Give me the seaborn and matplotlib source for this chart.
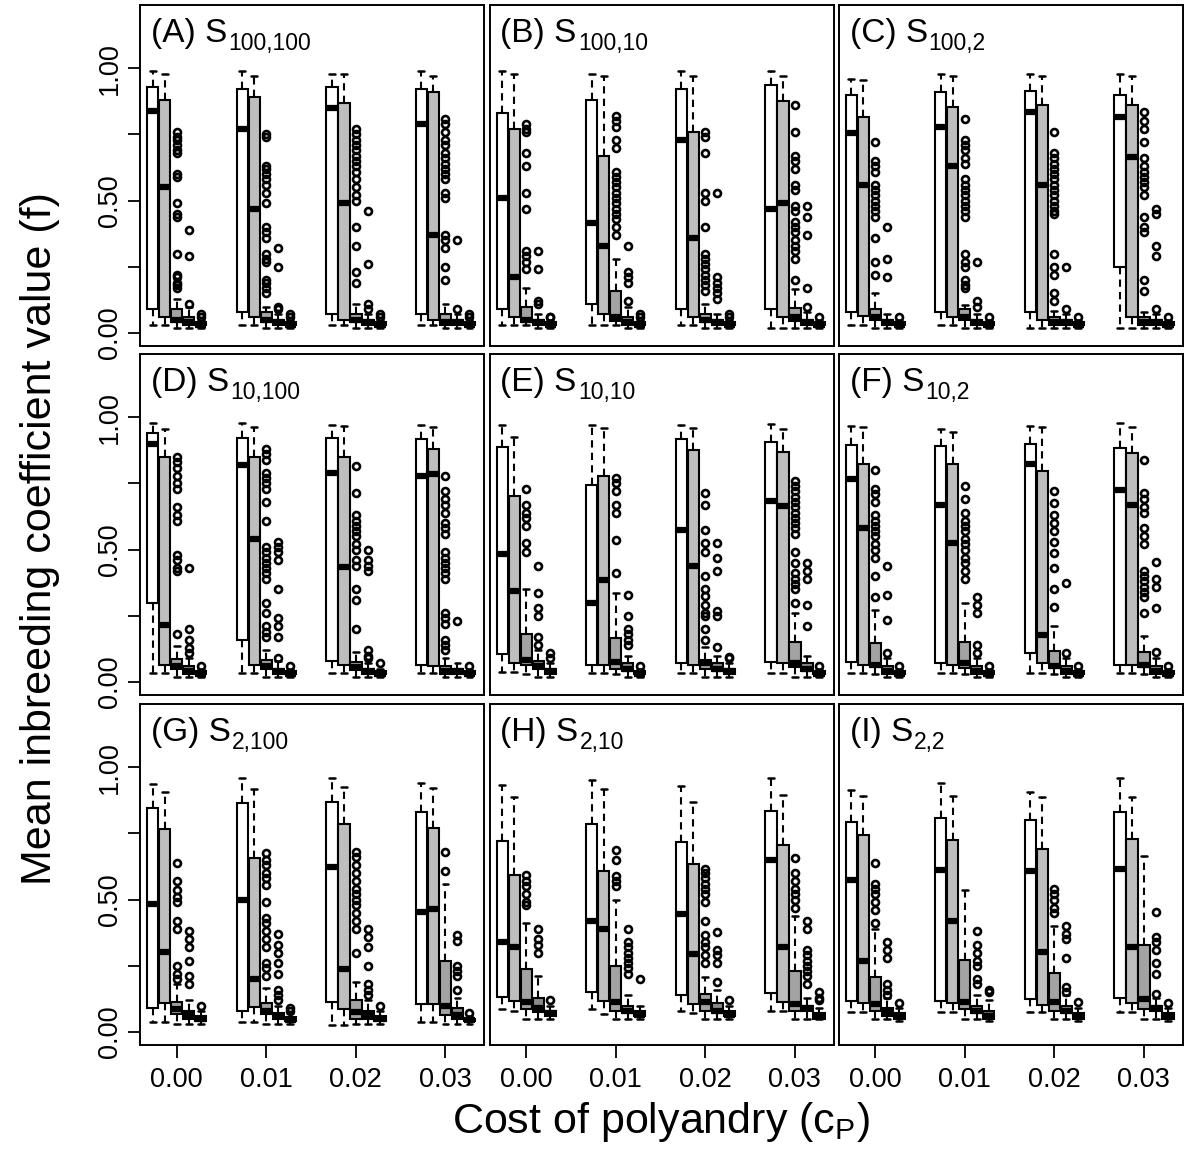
import numpy as np
import pandas as pd
import matplotlib
matplotlib.use("Agg")
import matplotlib.pyplot as plt
import seaborn as sns

# ---------------- data ----------------
costs = ["0.00", "0.01", "0.02", "0.03"]
panel_tags = ["(A)", "(B)", "(C)", "(D)", "(E)", "(F)", "(G)", "(H)", "(I)"]
panel_subs = ["100,100", "100,10", "100,2", "10,100", "10,10", "10,2", "2,100", "2,10", "2,2"]
box_names = ["b1", "b2", "b3", "b4", "b5"]
box_colors = ["#FFFFFF", "#BEBEBE", "#A3A3A3", "#8A8A8A", "#707070"]

# each box: (lower whisker, Q1, median, Q3, upper whisker); 5 boxes per cost level
A_box = [(.03, .09, .84, .93, .99), (.03, .06, .55, .88, .98), (.02, .04, .05, .09, .13), (.02, .03, .04, .06, .08), (.02, .03, .03, .04, .05),
         (.03, .08, .77, .92, .99), (.03, .06, .47, .89, .97), (.02, .04, .05, .08, .10), (.02, .03, .04, .05, .07), (.02, .03, .03, .04, .05),
         (.03, .07, .85, .93, .98), (.03, .05, .49, .87, .98), (.02, .04, .05, .07, .11), (.02, .03, .04, .05, .07), (.02, .03, .03, .04, .05),
         (.03, .07, .79, .92, .99), (.03, .05, .37, .91, .97), (.02, .03, .04, .07, .11), (.02, .03, .04, .05, .07), (.02, .03, .03, .04, .05)]
A_out = [[], [], [.76, .74, .73, .71, .69, .68, .60, .59, .49, .45, .44, .30, .22, .21, .19, .18, .17], [.39, .29, .11, .10], [.06, .07],
         [], [], [.75, .74, .63, .62, .60, .58, .56, .53, .49, .40, .38, .36, .30, .28, .27, .20, .19, .17, .15], [.32, .25, .10, .09], [.06, .07],
         [], [], [.77, .75, .73, .71, .69, .67, .65, .63, .61, .58, .55, .52, .50, .40, .33, .23, .19], [.46, .26, .11, .09], [.06, .07],
         [], [], [.81, .79, .76, .73, .71, .68, .66, .64, .62, .60, .58, .53, .51, .37, .35, .32, .25, .20], [.35, .09], [.06, .07]]

B_box = [(.03, .09, .51, .83, .99), (.03, .06, .21, .77, .98), (.03, .04, .05, .10, .17), (.02, .03, .04, .05, .07), (.02, .03, .03, .04, .05),
         (.03, .11, .415, .88, .98), (.03, .07, .33, .67, .97), (.03, .045, .06, .16, .28), (.02, .03, .04, .06, .08), (.02, .03, .03, .04, .05),
         (.03, .09, .73, .92, .99), (.03, .06, .36, .76, .97), (.02, .04, .05, .07, .11), (.02, .03, .04, .05, .07), (.02, .03, .03, .04, .05),
         (.02, .09, .47, .935, .99), (.02, .06, .49, .875, .97), (.02, .045, .06, .095, .165), (.02, .03, .04, .05, .08), (.02, .03, .03, .04, .05)]
B_out = [[], [], [.79, .77, .76, .68, .63, .53, .47, .31, .29, .27, .24], [.31, .24, .12, .11], [.06, .06],
         [], [], [.82, .80, .78, .73, .70, .61, .59, .57, .55, .53, .51, .49, .47, .45, .43, .40, .37], [.33, .23, .21, .19, .12, .10], [.06, .07],
         [], [], [.76, .74, .68, .53, .50, .40, .30, .28, .26, .24, .22, .20, .18, .16], [.53, .21, .19, .17, .15, .13], [.07, .06],
         [], [], [.86, .76, .67, .65, .62, .56, .54, .48, .46, .42, .40, .38, .35, .33, .31, .28, .20], [.48, .44, .37, .17, .10], [.06]]

C_box = [(.03, .08, .755, .90, .96), (.03, .065, .56, .815, .955), (.02, .05, .06, .09, .15), (.02, .03, .04, .05, .07), (.02, .03, .03, .04, .05),
         (.03, .08, .78, .91, .98), (.03, .06, .63, .855, .97), (.02, .05, .06, .09, .105), (.02, .03, .04, .05, .07), (.02, .03, .03, .04, .05),
         (.02, .08, .835, .915, .98), (.02, .05, .56, .86, .97), (.02, .03, .04, .06, .085), (.02, .03, .04, .05, .07), (.02, .03, .03, .04, .05),
         (.02, .25, .815, .90, .98), (.02, .06, .665, .86, .97), (.02, .03, .04, .06, .08), (.02, .03, .04, .05, .07), (.02, .03, .03, .04, .05)]
C_out = [[], [], [.72, .65, .63, .61, .56, .54, .52, .50, .48, .46, .44, .36, .27, .22], [.40, .28, .21], [.06],
         [], [], [.81, .73, .71, .69, .66, .64, .58, .56, .54, .52, .50, .48, .46, .44, .30, .27, .25, .20, .18, .17], [.27, .12, .10], [.06],
         [], [], [.76, .68, .66, .64, .62, .60, .58, .56, .54, .52, .50, .48, .46, .45, .30, .25, .22, .15, .12], [.25, .09], [.06],
         [], [], [.835, .80, .77, .72, .66, .63, .61, .59, .57, .55, .52, .44, .40, .38, .20, .16], [.47, .45, .33, .29, .09], [.06]]

D_box = [(.035, .30, .90, .94, .98), (.035, .064, .216, .85, .957), (.02, .05, .06, .086, .136), (.02, .03, .04, .06, .09), (.02, .03, .03, .04, .05),
         (.035, .16, .82, .92, .98), (.035, .064, .54, .85, .965), (.02, .05, .06, .083, .12), (.02, .03, .04, .05, .08), (.02, .03, .03, .04, .05),
         (.035, .08, .79, .92, .97), (.035, .064, .434, .85, .967), (.02, .045, .055, .075, .115), (.02, .03, .04, .05, .07), (.02, .03, .03, .04, .05),
         (.035, .064, .778, .917, .97), (.035, .06, .784, .88, .965), (.02, .03, .04, .06, .09), (.02, .03, .04, .05, .07), (.02, .03, .03, .04, .05)]
D_out = [[], [], [.85, .83, .81, .78, .75, .73, .66, .63, .61, .48, .46, .43, .42, .18], [.43, .20, .16, .13, .11], [.06],
         [], [], [.88, .86, .84, .79, .77, .75, .73, .68, .61, .51, .49, .47, .45, .43, .41, .39, .30, .26, .21, .19, .17], [.53, .51, .49, .46, .35, .24, .21, .17, .09], [.06],
         [], [], [.815, .715, .63, .61, .59, .57, .55, .52, .50, .46, .44, .35, .31, .20], [.50, .46, .44, .42, .12, .10, .09], [.07],
         [], [], [.78, .72, .69, .67, .64, .60, .58, .56, .49, .47, .45, .43, .41, .39, .26, .24, .22, .16, .14, .12], [.23], [.06]]

E_box = [(.039, .106, .485, .889, .97), (.039, .071, .342, .702, .927), (.03, .064, .085, .18, .35), (.02, .05, .06, .08, .12), (.02, .03, .04, .05, .07),
         (.035, .064, .30, .746, .97), (.035, .064, .384, .778, .96), (.03, .048, .077, .165, .336), (.02, .04, .05, .07, .10), (.02, .03, .03, .04, .05),
         (.035, .071, .576, .917, .97), (.035, .064, .44, .876, .96), (.02, .05, .07, .085, .134), (.02, .04, .05, .07, .10), (.02, .03, .04, .05, .07),
         (.035, .077, .683, .907, .973), (.035, .071, .664, .869, .957), (.02, .058, .07, .153, .26), (.02, .04, .05, .07, .10), (.02, .03, .03, .04, .05)]
E_out = [[], [], [.73, .67, .64, .62, .59, .525, .49], [.44, .335, .28, .25, .17, .14], [.11, .09],
         [], [], [.77, .75, .72, .67, .64, .535, .41], [.33, .25, .20, .18, .16, .14], [.06],
         [], [], [.715, .67, .576, .525, .49, .40, .35, .325, .29, .26, .25, .20, .16], [.525, .468, .418, .27, .25, .134], [.096, .09],
         [], [], [.76, .74, .72, .70, .68, .66, .64, .62, .60, .58, .56, .49, .45, .41, .39, .37, .35, .30], [.45, .42, .39, .29, .21], [.06]]

F_box = [(.035, .077, .768, .894, .967), (.035, .064, .582, .822, .965), (.03, .058, .065, .146, .273), (.02, .03, .04, .06, .09), (.02, .03, .03, .04, .05),
         (.035, .071, .67, .891, .955), (.035, .064, .525, .822, .944), (.03, .052, .07, .152, .30), (.02, .03, .04, .06, .09), (.02, .03, .03, .04, .05),
         (.035, .109, .822, .898, .967), (.035, .071, .178, .797, .965), (.03, .052, .06, .116, .21), (.02, .03, .04, .06, .09), (.02, .03, .03, .04, .05),
         (.035, .064, .727, .885, .98), (.035, .064, .67, .864, .965), (.03, .058, .065, .115, .172), (.02, .03, .04, .06, .09), (.02, .03, .03, .04, .05)]
F_out = [[], [], [.80, .73, .71, .68, .63, .61, .59, .57, .55, .52, .50, .47, .40, .32], [.44, .33, .235, .11], [.06],
         [], [], [.74, .69, .64, .61, .59, .57, .54, .52, .50, .47, .45, .42, .39], [.32, .29, .26, .14, .11], [.06],
         [], [], [.72, .677, .63, .60, .57, .53, .487, .43, .35, .285], [.373, .11], [.06],
         [], [], [.84, .715, .69, .66, .64, .58, .55, .52, .42, .40, .38, .36, .34, .32, .26], [.455, .39, .36, .28, .115], [.06]]

G_box = [(.039, .09, .485, .847, .936), (.037, .11, .304, .766, .905), (.03, .068, .087, .115, .18), (.03, .05, .065, .08, .12), (.03, .04, .05, .06, .08),
         (.037, .081, .497, .864, .96), (.037, .093, .20, .658, .918), (.03, .068, .08, .11, .165), (.03, .05, .06, .07, .10), (.03, .04, .045, .055, .07),
         (.027, .115, .624, .87, .958), (.027, .087, .239, .784, .927), (.03, .049, .074, .122, .19), (.03, .05, .065, .08, .12), (.03, .04, .05, .06, .08),
         (.037, .106, .453, .832, .94), (.037, .106, .463, .769, .923), (.03, .064, .10, .27, .56), (.03, .05, .065, .09, .13), (.03, .04, .045, .05, .06)]
G_out = [[], [], [.64, .57, .535, .51, .49, .42, .39, .25, .22, .20], [.38, .35, .32, .27, .21, .18], [.10],
         [], [], [.675, .65, .63, .60, .58, .555, .49, .43, .41, .38, .35, .32, .26, .24, .21], [.37, .33, .30, .26, .22, .16, .14, .12], [.08, .09],
         [], [], [.68, .66, .63, .60, .57, .54, .52, .50, .48, .45, .42, .39, .30], [.39, .36, .32, .25, .18, .16, .14], [.10],
         [], [], [.68, .61], [.367, .342, .25, .23, .21, .16], [.07]]

H_box = [(.087, .131, .34, .72, .933), (.081, .119, .32, .595, .889), (.05, .087, .115, .239, .413), (.05, .074, .09, .13, .21), (.05, .06, .07, .08, .10),
         (.087, .15, .418, .784, .952), (.068, .119, .39, .607, .918), (.05, .081, .112, .25, .50), (.05, .07, .08, .10, .14), (.05, .06, .065, .08, .10),
         (.081, .138, .447, .716, .93), (.072, .106, .295, .636, .867), (.05, .081, .112, .144, .207), (.05, .07, .08, .11, .16), (.05, .06, .065, .08, .10),
         (.081, .148, .649, .835, .958), (.081, .115, .32, .706, .895), (.05, .081, .106, .229, .44), (.05, .08, .09, .10, .13), (.05, .05, .06, .07, .09)]
H_out = [[], [], [.595, .57, .55, .52, .49, .48], [.39, .35, .33, .30], [.12],
         [], [], [.687, .65, .59, .57, .55], [.39, .34, .32, .30, .28, .26, .24, .22], [.20],
         [], [], [.615, .60, .58, .56, .54, .52, .49, .42, .365, .34, .32, .29, .26], [.377, .31, .29, .26, .188], [.12],
         [], [], [.658, .60, .57, .54, .52, .50, .47], [.42, .39, .31, .29, .27, .25, .23, .21, .18], [.153, .13, .12]]

I_box = [(.074, .119, .573, .794, .914), (.074, .11, .27, .744, .893), (.05, .081, .106, .207, .39), (.05, .06, .075, .09, .13), (.04, .05, .06, .07, .09),
         (.074, .119, .611, .807, .94), (.074, .11, .418, .725, .893), (.05, .087, .112, .273, .535), (.05, .07, .08, .10, .14), (.04, .05, .06, .08, .12),
         (.074, .125, .607, .80, .905), (.074, .102, .304, .69, .889), (.05, .081, .112, .223, .40), (.05, .07, .08, .10, .14), (.04, .05, .06, .07, .09),
         (.074, .127, .617, .83, .958), (.074, .11, .32, .728, .889), (.05, .087, .125, .327, .665), (.05, .08, .09, .10, .13), (.04, .05, .06, .07, .09)]
I_out = [[], [], [.64, .56, .54, .52, .49, .46, .41], [.34, .31, .28, .18, .16, .14], [.11],
         [], [], [], [.38, .33, .30, .27, .25, .20, .18], [.16, .15],
         [], [], [.54, .52, .50, .47, .45], [.40, .37, .35, .28, .17, .15], [.115],
         [], [], [], [.453, .36, .34, .31, .26, .22, .144], [.11]]

panel_boxes = [A_box, B_box, C_box, D_box, E_box, F_box, G_box, H_box, I_box]
panel_outs = [A_out, B_out, C_out, D_out, E_out, F_out, G_out, H_out, I_out]

# ---------------- layout / style ----------------
GROUP_STEP = 7.46
N_REP = 60

def box_sample(stat, outs):
    lw, q1, med, q3, uw = stat
    return [lw] + [q1] * N_REP + [med] * N_REP + [q3] * N_REP + [uw] + list(outs)

sns.set_theme(style="white")
plt.rcParams["font.family"] = ["Liberation Sans", "DejaVu Sans"]
plt.rcParams["mathtext.default"] = "regular"

W, H = 1188, 1154
fig = plt.figure(figsize=(W / 100, H / 100), dpi=100)
renderer = fig.canvas.get_renderer()
col_left = [140, 489.5, 838.5]
row_top = [5, 354, 704]
pw, ph = 344, 341

for p in range(9):
    r, c = divmod(p, 3)
    ax = fig.add_axes([col_left[c] / W, 1 - (row_top[r] + ph) / H, pw / W, ph / H])
    recs = []
    for g in range(4):
        for b in range(5):
            i = g * 5 + b
            xpos = g * GROUP_STEP + (b - 2)
            for v in box_sample(panel_boxes[p][i], panel_outs[p][i]):
                recs.append((xpos, box_names[b], v))
    df = pd.DataFrame(recs, columns=["x", "box", "f"])
    sns.boxplot(data=df, x="x", y="f", hue="box", hue_order=box_names,
                palette=dict(zip(box_names, box_colors)), native_scale=True,
                dodge=False, width=0.95, linecolor="black", linewidth=1.5,
                legend=False, ax=ax,
                whiskerprops=dict(linestyle=(0, (3.5, 2.5)), linewidth=1.5),
                capprops=dict(linewidth=1.8),
                medianprops=dict(linewidth=4.5, color="black", solid_capstyle="butt"),
                flierprops=dict(marker="o", markersize=5, markerfacecolor="none",
                                markeredgecolor="black", markeredgewidth=1.9))
    ax.set_xlim(-3.06, 25.6)
    ax.set_ylim(-0.049, 1.239)
    ax.set_xlabel("")
    ax.set_ylabel("")
    for s in ax.spines.values():
        s.set_visible(True)
        s.set_color("black")
        s.set_linewidth(1.4)
    ax.set_xticks([g * GROUP_STEP for g in range(4)])
    ax.set_yticks([0, 0.25, 0.5, 0.75, 1.0])
    ax.tick_params(axis="both", direction="out", length=9, width=1.3, colors="black",
                   labelsize=19.5, labelcolor="black")
    ax.tick_params(axis="y", pad=3)
    ax.tick_params(axis="x", pad=7)
    ax.tick_params(left=(c == 0), bottom=(r == 2))
    if r == 2:
        ax.set_xticklabels(costs)
    else:
        ax.set_xticklabels([])
    if c == 0:
        ax.set_yticklabels(["0.00", "", "0.50", "", "1.00"], rotation=90, va="center")
    else:
        ax.set_yticklabels([])
    # panel label: main text plus a smaller subscript placed right after it
    t = ax.text(11 / pw, 1 - 37 / ph, f"{panel_tags[p]} S",
                transform=ax.transAxes, fontsize=24, ha="left", va="baseline", color="black")
    bb = t.get_window_extent(renderer)
    ax0 = ax.get_window_extent(renderer)
    xs = (bb.x1 + 1 - ax0.x0) / ax0.width
    ax.text(xs, 1 - 45 / ph, panel_subs[p], transform=ax.transAxes, fontsize=16.5,
            ha="left", va="baseline", color="black")

fig.text(40 / W, 1 - 539 / H, "Mean inbreeding coefficient value (f)", rotation=90,
         ha="center", va="center", fontsize=31, color="black")
fig.text(661 / W, 1 - 1122 / H, "Cost of polyandry (c$_{P}$)",
         ha="center", va="center", fontsize=31, color="black")

fig.savefig("out.png", dpi=100, facecolor="white")
